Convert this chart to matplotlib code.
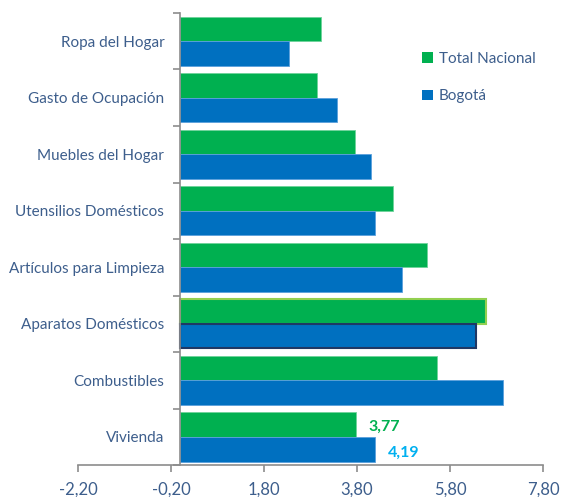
import matplotlib
matplotlib.use('Agg')
import matplotlib.pyplot as plt
from matplotlib.patches import Patch
from matplotlib.ticker import FuncFormatter
import numpy as np

categorias = ['Ropa del Hogar', 'Gasto de Ocupación', 'Muebles del Hogar',
              'Utensilios Domésticos', 'Artículos para Limpieza',
              'Aparatos Domésticos', 'Combustibles', 'Vivienda']
total_nacional = [3.02, 2.95, 3.75, 4.57, 5.30, 6.58, 5.51, 3.77]
bogota = [2.34, 3.36, 4.11, 4.19, 4.77, 6.36, 6.93, 4.19]
xticks = [-2.2, -0.2, 1.8, 3.8, 5.8, 7.8]

verde = '#00B050'
azul = '#0070C0'
texto = '#3D5E8C'
gris = '#8C8C8C'

plt.rcParams['font.family'] = ['Lato', 'DejaVu Sans']

fig = plt.figure(figsize=(5.61, 4.97), dpi=100)
ax = fig.add_axes([0.139, 0.064, 0.829, 0.91])

y = np.arange(len(categorias))
h = 0.435
bordes_v = ['#6FD39A'] * len(categorias)
bordes_a = ['#5AA0DC'] * len(categorias)
bordes_v[5] = '#92D050'
bordes_a[5] = '#1F3864'
anchos = [0.6] * len(categorias)
anchos[5] = 1.5

ax.barh(y - h / 2, total_nacional, height=h, color=verde,
        edgecolor=bordes_v, linewidth=anchos)
ax.barh(y + h / 2, bogota, height=h, color=azul,
        edgecolor=bordes_a, linewidth=anchos)

# etiquetas de Vivienda
ax.text(total_nacional[7] + 0.28, y[7] - h / 2 + 0.04, '3,77', color=verde,
        fontsize=11.5, fontweight='bold', va='center', ha='left')
ax.text(bogota[7] + 0.28, y[7] + h / 2 + 0.06, '4,19', color='#00B0F0',
        fontsize=11.5, fontweight='bold', va='center', ha='left')

ax.set_xlim(-2.2, 7.8)
ax.set_ylim(len(categorias) - 0.5, -0.5)

ax.spines['left'].set_position(('data', 0))
ax.spines['right'].set_visible(False)
ax.spines['top'].set_visible(False)
for s in ['left', 'bottom']:
    ax.spines[s].set_color(gris)
    ax.spines[s].set_linewidth(1.2)

ax.set_yticks(y)
ax.set_yticklabels(categorias)
ax.set_yticks(np.arange(-0.5, len(categorias), 1.0), minor=True)
ax.tick_params(axis='y', which='major', length=0, pad=11.5,
               labelsize=11, labelcolor=texto)
ax.tick_params(axis='y', which='minor', length=5, color=gris, width=1.2)

ax.set_xticks(xticks)
ax.xaxis.set_major_formatter(FuncFormatter(lambda v, p: ('%.2f' % v).replace('.', ',')))
ax.tick_params(axis='x', length=5, color=gris, width=1.2, pad=7,
               labelsize=12, labelcolor=texto)

handles = [Patch(facecolor=verde, label='Total Nacional'),
           Patch(facecolor=azul, label='Bogotá')]
leg = ax.legend(handles=handles, loc='upper left', bbox_to_anchor=(0.71, 0.945),
                frameon=False, fontsize=11, handlelength=0.7,
                handleheight=0.7, handletextpad=0.4, labelspacing=1.55)
for t in leg.get_texts():
    t.set_color(texto)

fig.savefig('out.png', dpi=100)
